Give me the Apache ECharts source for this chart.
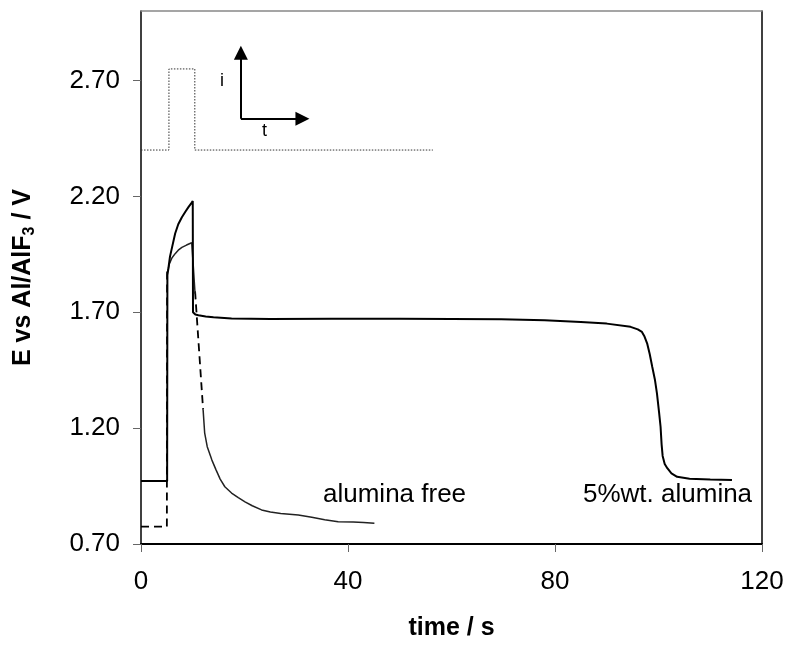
<!DOCTYPE html>
<html>
<head>
<meta charset="utf-8">
<script src="https://cdn.jsdelivr.net/npm/echarts@6/dist/echarts.min.js"></script>
<style>html,body{margin:0;padding:0;background:#fff}#c{width:791px;height:646px}</style>
</head>
<body>
<div id="c"></div>
<script>
// ---- data ----
const xTicks = [0, 40, 80, 120];
const yTicks = [0.7, 1.2, 1.7, 2.2, 2.7];

// 5%wt. alumina (solid, thick)
const alumina5 = [
  [0, 0.972], [5.05, 0.972], [5.1, 1.86], [5.3, 1.89], [5.6, 1.94], [6.0, 1.98], [6.6, 2.04],
  [7.2, 2.08], [7.9, 2.11], [8.6, 2.135], [9.2, 2.155], [9.7, 2.17], [10.0, 2.18],
  [10.05, 1.70], [10.5, 1.69], [11.1, 1.687], [12.5, 1.682], [14, 1.678], [17.5, 1.673],
  [25, 1.671], [36.8, 1.672], [50, 1.672], [60, 1.671], [69.6, 1.67], [78, 1.666],
  [85, 1.658], [90, 1.651], [94.6, 1.637], [96, 1.626], [96.8, 1.615], [97.3, 1.595],
  [97.8, 1.566], [98.3, 1.52], [98.8, 1.464], [99.3, 1.41], [99.7, 1.35], [100.1, 1.27],
  [100.4, 1.206], [100.6, 1.13], [100.8, 1.08], [101.2, 1.045], [101.7, 1.027],
  [102.5, 1.005], [103.6, 0.99], [106, 0.982], [110, 0.978], [114.2, 0.976]
];

// alumina free (solid, thin)
const aluminaFree = [
  [5.2, 1.88], [5.5, 1.91], [6.0, 1.935], [6.6, 1.953], [7.2, 1.968], [7.9, 1.98],
  [8.8, 1.99], [9.8, 2.0], [10.1, 1.9], [10.45, 1.78], null,
  [12.0, 1.28], [12.3, 1.18], [12.8, 1.12], [13.7, 1.062], [14.5, 1.02], [15.3, 0.98],
  [16.2, 0.947], [17.5, 0.92], [18.8, 0.9], [20.1, 0.882], [21.5, 0.865], [23.3, 0.847],
  [25, 0.838], [27, 0.832], [30.4, 0.825], [33, 0.815], [35.5, 0.805], [38.1, 0.796],
  [41, 0.795], [43, 0.793], [45.1, 0.79]
];

// alumina free (dashed parts)
const aluminaFreeDashed = [
  [0, 0.775], [5.0, 0.775], [5.05, 1.88], null, [10.45, 1.79], [12.0, 1.28]
];

// current pulse inset (dotted)
const pulse = [
  [0, 2.40], [5.4, 2.40], [5.4, 2.75], [10.4, 2.75], [10.4, 2.40], [56.4, 2.40]
];

// inset i/t axes arrows
const insetArrows = [
  [[19.3, 2.535], [19.3, 2.82]],
  [[19.3, 2.535], [31.2, 2.535]]
];

const FONT = 'Liberation Sans, Arial, sans-serif';

const chart = echarts.init(document.getElementById('c'), null, {renderer: 'canvas'});
chart.setOption({
  animation: false,
  backgroundColor: '#fff',
  grid: {left: 139, right: 29, top: 11, bottom: 102, containLabel: false},
  xAxis: [{
    type: 'value', min: 0, max: 120, position: 'bottom',
    name: 'time / s', nameLocation: 'middle', nameGap: 72,
    nameTextStyle: {fontFamily: FONT, fontSize: 25, fontWeight: 'bold', color: '#000'},
    axisLine: {show: true, onZero: false, lineStyle: {color: '#000', width: 2}},
    axisTick: {show: true, length: 8, customValues: xTicks, lineStyle: {color: '#666', width: 1}},
    axisLabel: {customValues: xTicks, margin: 25, fontFamily: FONT, fontSize: 26, color: '#000'},
    splitLine: {show: false}
  }, {
    type: 'value', min: 0, max: 120, position: 'top',
    axisLine: {show: true, onZero: false, lineStyle: {color: '#888', width: 1.5}},
    axisTick: {show: false}, axisLabel: {show: false}, splitLine: {show: false}
  }],
  yAxis: [{
    type: 'value', min: 0.7, max: 3.0, position: 'left',
    name: '{a|E vs Al/AlF}{s|3}{a| / V}', nameLocation: 'middle', nameGap: 103, nameRotate: 90,
    nameTextStyle: {
      rich: {
        a: {fontFamily: FONT, fontSize: 25, fontWeight: 'bold', color: '#000', lineHeight: 30},
        s: {fontFamily: FONT, fontSize: 16, fontWeight: 'bold', color: '#000', lineHeight: 16, verticalAlign: 'bottom', padding: [14, 0, 0, 0]}
      }
    },
    axisLine: {show: true, onZero: false, lineStyle: {color: '#000', width: 1.5}},
    axisTick: {show: true, length: 8, customValues: yTicks, lineStyle: {color: '#666', width: 1}},
    axisLabel: {customValues: yTicks, margin: 21, fontFamily: FONT, fontSize: 26, color: '#000',
      formatter: v => v.toFixed(2)},
    splitLine: {show: false}
  }, {
    type: 'value', min: 0.7, max: 3.0, position: 'right',
    axisLine: {show: true, onZero: false, lineStyle: {color: '#000', width: 1.5}},
    axisTick: {show: false}, axisLabel: {show: false}, splitLine: {show: false}
  }],
  series: [
    {type: 'line', name: 'pulse', data: pulse, showSymbol: false, symbol: 'none',
      lineStyle: {color: '#333', width: 1, type: [1.5, 1.5]}, z: 2},
    {type: 'line', name: 'alumina free dashed', data: aluminaFreeDashed, showSymbol: false, symbol: 'none',
      connectNulls: false, lineStyle: {color: '#000', width: 1.8, type: [8, 5]}, z: 3},
    {type: 'line', name: 'alumina free', data: aluminaFree, showSymbol: false, symbol: 'none',
      connectNulls: false, lineStyle: {color: '#222', width: 1.5}, z: 4},
    {type: 'line', name: '5%wt. alumina', data: alumina5, showSymbol: false, symbol: 'none',
      lineStyle: {color: '#000', width: 2}, z: 5},
    {type: 'lines', coordinateSystem: 'cartesian2d', polyline: false,
      symbol: ['none', 'triangle'], symbolSize: 14,
      lineStyle: {color: '#000', width: 2, opacity: 1, curveness: 0},
      data: insetArrows.map(c => ({coords: c})), z: 6}
  ],
  graphic: [
    {type: 'text', left: 323, top: 482, style: {text: 'alumina free', font: '26px ' + FONT, fill: '#000'}},
    {type: 'text', left: 583, top: 482, style: {text: '5%wt. alumina', font: '26px ' + FONT, fill: '#000'}},
    {type: 'text', left: 220, top: 72, style: {text: 'i', font: '18px ' + FONT, fill: '#000'}},
    {type: 'text', left: 262, top: 122, style: {text: 't', font: '18px ' + FONT, fill: '#000'}}
  ]
});
</script>
</body>
</html>
